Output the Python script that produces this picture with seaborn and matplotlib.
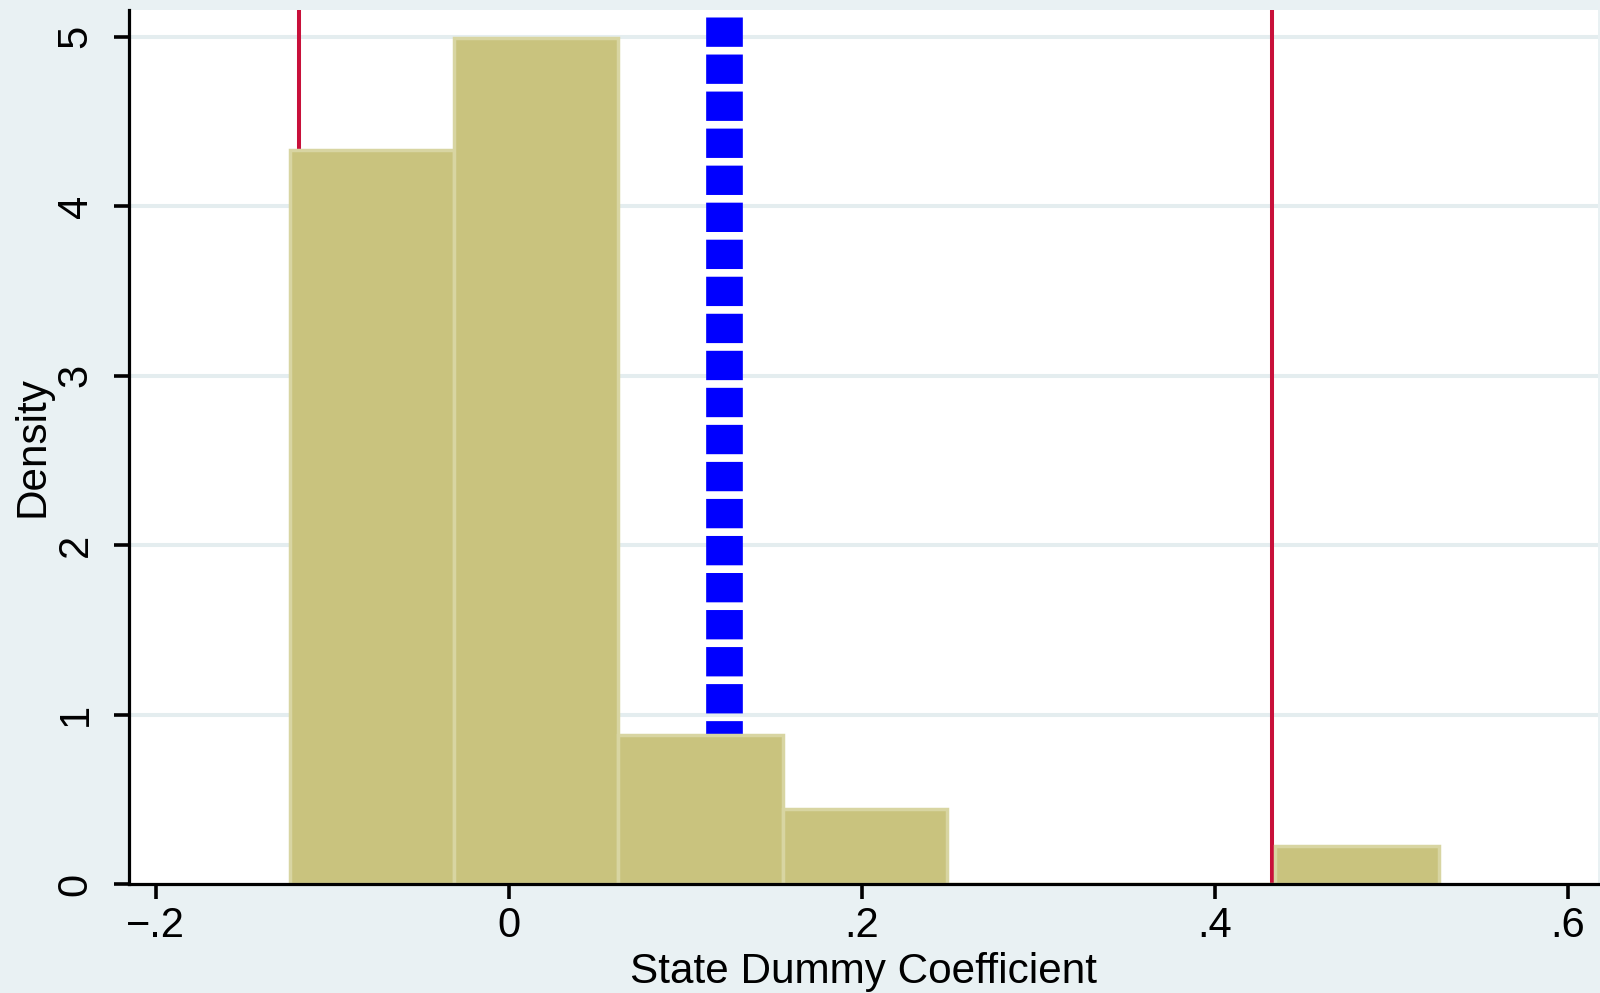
import numpy as np
import pandas as pd
import seaborn as sns
import matplotlib.pyplot as plt

# Histogram bins (State Dummy Coefficient) and bar densities
bin_edges = [-0.124, -0.031, 0.062, 0.155, 0.248, 0.341, 0.434, 0.527]
densities = [4.33, 4.99, 0.88, 0.44, 0.0, 0.0, 0.225]

# Reference lines: confidence bounds and point estimate
bound_lines = [-0.119, 0.432]
estimate_line = 0.122

x_ticks = [-0.2, 0.0, 0.2, 0.4, 0.6]
x_tick_labels = ["\u2212.2", "0", ".2", ".4", ".6"]
y_ticks = [0, 1, 2, 3, 4, 5]
y_tick_labels = ["0", "1", "2", "3", "4", "5"]

sns.set_theme(style="white")
plt.rcParams["font.family"] = ["Liberation Sans", "DejaVu Sans"]

bg = "#E9F1F3"
bar_fill = "#C9C37E"
bar_edge = "#D8D5A2"

fig = plt.figure(figsize=(16, 9.93), dpi=100, facecolor=bg)
ax = fig.add_axes([0.0806, 0.1098, 0.9182, 0.8801])
ax.set_facecolor("white")

centers = [(bin_edges[i] + bin_edges[i + 1]) / 2 for i in range(len(densities))]
df = pd.DataFrame({"coef": centers, "density": densities})

# horizontal grid
for yv in y_ticks[1:]:
    ax.axhline(yv, color="#E4EDEF", lw=2.9, zorder=0.2)

# reference lines sit behind the bars
for xv in bound_lines:
    ax.axvline(xv, color="#C8103A", lw=2.9, zorder=0.5)
ax.plot([estimate_line, estimate_line], [5.115, 0.0], color="#0000FF",
        lw=26.4, dashes=(0.8, 0.21), solid_capstyle="butt",
        dash_capstyle="butt", zorder=0.6)

sns.histplot(data=df, x="coef", weights="density", bins=bin_edges,
             stat="count", color=bar_fill, edgecolor=bar_edge,
             linewidth=2.5, alpha=1.0, ax=ax, zorder=1)

ax.set_xlim(-0.2153, 0.617)
ax.set_ylim(0, 5.157)

ax.set_xticks(x_ticks)
ax.set_xticklabels(x_tick_labels)
ax.set_yticks(y_ticks)
ax.set_yticklabels(y_tick_labels)
plt.setp(ax.get_yticklabels(), rotation=90, va="center")

ax.tick_params(axis="both", which="major", direction="out", length=11,
               width=2.6, color="black", labelsize=30, labelcolor="black",
               left=True, bottom=True)
ax.tick_params(axis="x", pad=5)
ax.tick_params(axis="y", pad=13)

for side in ["top", "right"]:
    ax.spines[side].set_visible(False)
for side in ["left", "bottom"]:
    ax.spines[side].set_color("black")
    ax.spines[side].set_linewidth(2.3)
    ax.spines[side].set_zorder(3)

ax.set_xlabel("State Dummy Coefficient", fontsize=30.4, color="black", labelpad=4.5)
ax.set_ylabel("Density", fontsize=30.4, color="black", labelpad=2)
ax.grid(False)

fig.savefig("out.png", dpi=100, facecolor=bg)
